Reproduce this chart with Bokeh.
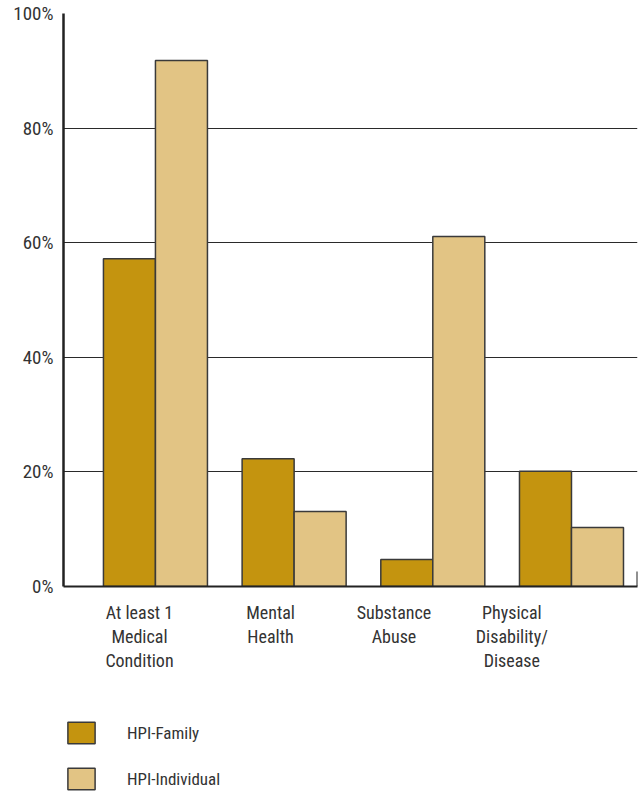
from bokeh.plotting import figure
from bokeh.models import FixedTicker, Legend, LegendItem, ColumnDataSource
from bokeh.layouts import column
from bokeh.embed import file_html
from bokeh.resources import INLINE

categories = ["At least 1\nMedical\nCondition", "Mental\nHealth", "Substance\nAbuse", "Physical\nDisability/\nDisease"]
hpi_family = [57.2, 22.3, 4.7, 20.1]
hpi_individual = [91.8, 13.1, 61.1, 10.3]
y_ticks = [0, 20, 40, 60, 80, 100]
y_tick_labels = ["0%", "20%", "40%", "60%", "80%", "100%"]
series_names = ["HPI-Family", "HPI-Individual"]

FONT = "Roboto Condensed"
C_FAM = "#C4940F"
C_IND = "#E2C484"
OUT = "#3a3a3a"
TXT = "#333333"

idx = [i + 1 for i in range(len(categories))]
label_pos = [0.885, 1.83, 2.72, 3.57]  # layout: label anchors
bw = 0.375

src = ColumnDataSource(dict(
    xf=[i - bw / 2 for i in idx], xi=[i + bw / 2 for i in idx],
    fam=hpi_family, ind=hpi_individual))

p = figure(width=640, height=686, x_range=(0.337, 4.476), y_range=(0, 100),
           min_border_left=63, min_border_right=3, min_border_top=13, min_border_bottom=100,
           output_backend="svg", toolbar_location=None)
p.outline_line_color = None

p.vbar(x="xf", top="fam", width=bw, source=src, fill_color=C_FAM, line_color=OUT, line_width=1.5)
p.vbar(x="xi", top="ind", width=bw, source=src, fill_color=C_IND, line_color=OUT, line_width=1.5)

# small end tick at right of baseline
p.segment(x0=[p.x_range.end], y0=[0], x1=[p.x_range.end], y1=[2.6],
          line_color="#222222", line_width=2)

p.xgrid.visible = False
p.ygrid.ticker = FixedTicker(ticks=y_ticks)
p.ygrid.grid_line_color = "#2a2a2a"
p.ygrid.grid_line_width = 1

for ax in (p.xaxis, p.yaxis):
    ax.major_tick_out = 0
    ax.major_tick_in = 0
    ax.minor_tick_out = 0
    ax.minor_tick_in = 0
    ax.axis_line_color = "#222222"
    ax.major_label_text_font = FONT
    ax.major_label_text_color = TXT

p.yaxis.ticker = FixedTicker(ticks=y_ticks)
p.yaxis.major_label_overrides = {t: l for t, l in zip(y_ticks, y_tick_labels)}
p.yaxis.axis_line_width = 2.5
p.yaxis.major_label_standoff = 10
p.yaxis.major_label_text_font_size = "19px"

p.xaxis.ticker = FixedTicker(ticks=label_pos)
p.xaxis.major_label_overrides = {t: l for t, l in zip(label_pos, categories)}
p.xaxis.axis_line_width = 2
p.xaxis.major_label_standoff = 15
p.xaxis.major_label_text_font_size = "18px"
p.xaxis.major_label_text_line_height = 1.15

# legend panel
lg = figure(width=640, height=106, x_range=(0, 1), y_range=(0, 1),
            x_axis_type=None, y_axis_type=None,
            min_border=0, output_backend="svg", toolbar_location=None)
lg.grid.visible = False
lg.outline_line_color = None
nan = float("nan")
lr1 = lg.vbar(x=[0.5], top=[nan], width=0.1, fill_color=C_FAM, line_color=OUT, line_width=1.5)
lr2 = lg.vbar(x=[0.5], top=[nan], width=0.1, fill_color=C_IND, line_color=OUT, line_width=1.5)
legend = Legend(items=[LegendItem(label=series_names[0], renderers=[lr1]),
                       LegendItem(label=series_names[1], renderers=[lr2])],
                location=(1, 0), orientation="vertical",
                glyph_width=34, glyph_height=27, spacing=19, padding=0, margin=0,
                label_standoff=29, label_text_font=FONT, label_text_font_size="17px",
                label_text_color=TXT, border_line_color=None, background_fill_alpha=0)
lg.add_layout(legend, "center")

open("out.html", "w").write(file_html(column(p, lg, spacing=0), INLINE))
